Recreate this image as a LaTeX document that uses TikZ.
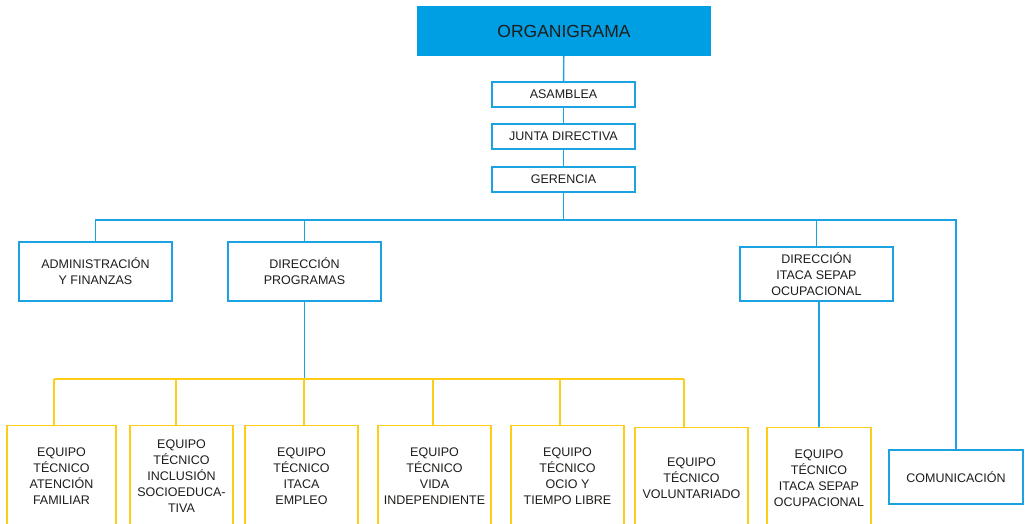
\documentclass[tikz,border=0pt]{standalone}
\usepackage{fontspec}
\setmainfont{Liberation Sans}
\definecolor{azul}{HTML}{1AA3E0}
\definecolor{cian}{HTML}{009FE3}
\definecolor{amarillo}{HTML}{FFCC1A}
\definecolor{texto}{HTML}{1D1D1B}
\begin{document}
\begin{tikzpicture}[x=1pt,y=-1pt,
  caja/.style={draw=azul,line width=1.4pt,fill=white,align=center,inner sep=0pt,
    text=texto,font=\fontsize{12.5}{16}\selectfont},
  equipo/.style={caja,draw=amarillo,anchor=north,minimum height=100pt},
  linea/.style={azul,line width=1.4pt},
  lineaam/.style={amarillo,line width=1.4pt}]
  \useasboundingbox (0,0) rectangle (1029,524);
  \clip (0,0) rectangle (1029,524);
  %cabecera
  \node[fill=cian,minimum width=294pt,minimum height=50pt,text=texto,
    font=\fontsize{17.5}{20}\selectfont] (titulo) at (564,31) {ORGANIGRAMA};
  \node[caja,minimum width=143pt,minimum height=25pt] (asamblea) at (563.5,94.5) {ASAMBLEA};
  \node[caja,minimum width=143pt,minimum height=25pt] (junta) at (563.5,136.5) {JUNTA DIRECTIVA};
  \node[caja,minimum width=143pt,minimum height=25pt] (gerencia) at (563.5,179.5) {GERENCIA};
  %areas
  \node[caja,minimum width=153pt,minimum height=59pt] (admin) at (95.5,271.5) {ADMINISTRACIÓN\\Y FINANZAS};
  \node[caja,minimum width=153pt,minimum height=59pt] (dirprog) at (304.5,271.5) {DIRECCIÓN\\PROGRAMAS};
  \node[caja,minimum width=153pt,minimum height=54pt] (diritaca) at (816.5,274) {DIRECCIÓN\\ITACA SEPAP\\OCUPACIONAL};
  \node[caja,minimum width=134pt,minimum height=54pt] (comunica) at (956,477) {COMUNICACIÓN};
  %equipos
  \node[equipo,minimum width=109pt] (eq1) at (61.5,425) {EQUIPO\\TÉCNICO\\ATENCIÓN\\FAMILIAR};
  \node[equipo,minimum width=103pt] (eq2) at (181.5,425) {EQUIPO\\TÉCNICO\\INCLUSIÓN\\SOCIOEDUCA-\\TIVA};
  \node[equipo,minimum width=113pt] (eq3) at (301.5,425) {EQUIPO\\TÉCNICO\\ITACA\\EMPLEO};
  \node[equipo,minimum width=113pt] (eq4) at (434.5,425) {EQUIPO\\TÉCNICO\\VIDA\\INDEPENDIENTE};
  \node[equipo,minimum width=113pt] (eq5) at (567.5,425) {EQUIPO\\TÉCNICO\\OCIO Y\\TIEMPO LIBRE};
  \node[equipo,minimum width=113pt] (eq6) at (691.5,427) {EQUIPO\\TÉCNICO\\VOLUNTARIADO};
  \node[equipo,minimum width=104pt] (eq7) at (819,427) {EQUIPO\\TÉCNICO\\ITACA SEPAP\\OCUPACIONAL};
  %lineas azules
  \coordinate (ramal) at (0,220);
  \coordinate (ramalam) at (0,379);
  \draw[linea] (titulo) -- (asamblea);
  \draw[linea] (asamblea) -- (junta);
  \draw[linea] (junta) -- (gerencia);
  \draw[linea] (gerencia) -- (gerencia |- ramal);
  \draw[linea] (admin.north) -- (admin.north |- ramal) -- (comunica.north |- ramal) -- (comunica.north);
  \draw[linea] (dirprog.north) -- (dirprog.north |- ramal);
  \draw[linea] (diritaca.north) -- (diritaca.north |- ramal);
  \draw[linea] (dirprog.south) -- (dirprog.south |- ramalam);
  \draw[linea] (eq7.north |- diritaca.south) -- (eq7.north);
  %lineas amarillas
  \coordinate (b1) at (54,379);
  \coordinate (b2) at (176,379);
  \coordinate (b3) at (304,379);
  \coordinate (b4) at (433,379);
  \coordinate (b5) at (560,379);
  \coordinate (b6) at (684,379);
  \draw[lineaam] (b1) -- (b6);
  \foreach \i in {1,...,6}
    \draw[lineaam] (b\i) -- (b\i |- eq\i.north);
\end{tikzpicture}
\end{document}
